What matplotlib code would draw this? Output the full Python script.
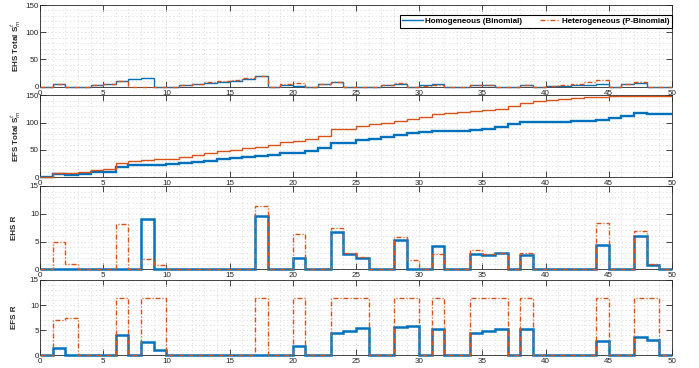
import matplotlib.pyplot as plt
from matplotlib.ticker import MultipleLocator
import numpy as np

plt.rcParams['font.family'] = ['Liberation Sans', 'DejaVu Sans']
plt.rcParams['lines.scale_dashes'] = False

# x edges (stairs from 0 to 50)
x = np.arange(0, 51)

# EHS Total S^t_m
ehs_tot_hom = [0, 5, 0, 0, 3, 5.5, 11, 14, 16.5, 0,
               0, 3.5, 5.5, 6.7, 9.2, 11, 14, 19, 0, 4,
               0.5, 0, 4.5, 9, 0, 0, 0, 3, 5.5, 0,
               2.5, 5.5, 0, 0, 2.5, 2.5, 0, 0, 3, 0,
               1, 1.5, 2.5, 3, 5.5, 0, 4.5, 7, 0, 0]
ehs_tot_het = [0, 5, 0, 0, 3, 5, 11, 0, 0, 0,
               0, 3.5, 5.5, 8, 10.4, 13, 16.5, 20, 0, 5,
               7, 0, 4.5, 9, 0, 0, 0, 3, 6, 0,
               2, 3.7, 0, 0, 2.5, 3.7, 0, 0, 3, 0,
               1.5, 2.5, 5, 8, 11.5, 0, 4.5, 8.6, 0, 0]

# EFS Total S^t_m
efs_tot_hom = [0, 6.5, 5, 6, 9.5, 10, 19, 22, 23, 23,
               24, 27, 28, 30.5, 33.5, 35, 37, 39.5, 40, 44.5,
               45, 49, 54, 63, 62, 67.5, 70.5, 74, 77, 81,
               83.5, 85, 85, 85, 86.5, 87.5, 92, 98, 101, 101,
               101.5, 102, 103, 103.5, 105, 108, 113, 117.5, 116, 116]
efs_tot_het = [0, 8, 8.5, 9.5, 13, 15, 26, 30, 31.5, 33,
               33.5, 38, 41, 44, 47.5, 50.5, 53, 55.5, 58.5, 64.5,
               67, 69.5, 76, 88, 88, 93.5, 97, 100, 103, 106.5,
               111, 115, 117.5, 119.5, 121, 123.5, 125.5, 131, 136.5, 140,
               142, 144, 145.5, 146.5, 147.5, 148, 148, 148.5, 148.5, 148.5]

# EHS R
ehs_r_hom = [0, 0, 0, 0, 0, 0, 0, 0, 9, 0,
             0, 0, 0, 0, 0, 0, 0, 9.6, 0, 0,
             2.1, 0, 0, 6.7, 2.7, 2.1, 0, 0, 5.2, 0,
             0, 4.2, 0, 0, 2.7, 2.6, 2.9, 0, 2.5, 0,
             0, 0, 0, 0, 4.4, 0, 0, 6.0, 0.8, 0]
ehs_r_het = [0, 5, 0.9, 0, 0, 0, 8.1, 0, 1.8, 0.7,
             0, 0, 0, 0, 0, 0, 0, 11.4, 0, 0,
             6.3, 0, 0, 7.5, 3.0, 2.3, 0, 0, 5.8, 1.7,
             0, 2.7, 0, 0, 3.4, 2.8, 3.0, 0, 3.0, 0,
             0, 0, 0, 0, 8.3, 0, 0, 6.9, 1.0, 0]

# EFS R
efs_r_hom = [0, 1.4, 0, 0, 0, 0, 4.0, 0, 2.6, 1.0,
             0, 0, 0, 0, 0, 0, 0, 0, 0, 0,
             1.8, 0, 0, 4.5, 4.9, 5.4, 0, 0, 5.6, 5.9,
             0, 5.3, 0, 0, 4.5, 4.9, 5.3, 0, 5.2, 0,
             0, 0, 0, 0, 2.8, 0, 0, 3.7, 3.0, 0]
efs_r_het = [0, 7.0, 7.5, 0, 0, 0, 11.5, 0, 11.5, 11.5,
             0, 0, 0, 0, 0, 0, 0, 11.5, 0, 0,
             11.5, 0, 0, 11.5, 11.5, 11.5, 0, 0, 11.5, 11.5,
             0, 11.5, 0, 0, 11.5, 11.5, 11.5, 0, 11.5, 0,
             0, 0, 0, 0, 11.5, 0, 0, 11.5, 11.5, 0]

blue = '#0072BD'
orange = '#D95319'
dark = '#262626'
dashdot = (0, (3.6, 1.4, 0.8, 1.4))

panels = [
    (ehs_tot_hom, ehs_tot_het, r'EHS Total S$^{t}_{m}$', 150, 50, 10, 1.0, True),
    (efs_tot_hom, efs_tot_het, r'EFS Total S$^{t}_{m}$', 150, 50, 10, 1.7, False),
    (ehs_r_hom, ehs_r_het, 'EHS R', 15, 5, 1, 1.8, True),
    (efs_r_hom, efs_r_het, 'EFS R', 15, 5, 1, 1.8, True),
]
# axes boxes in pixels (top, bottom)
boxes = [(5, 86.7), (95.3, 177.3), (186, 269.3), (280, 355.3)]

W, H = 699, 368
fig = plt.figure(figsize=(W / 100, H / 100), dpi=100)

for i, (hom, het, label, ymax, ymaj, ymin, lw_b, dashed) in enumerate(panels):
    top, bot = boxes[i]
    ax = fig.add_axes([40 / W, 1 - bot / H, 632 / W, (bot - top) / H])
    ax.stairs(hom, x, baseline=None, color=blue, lw=lw_b, zorder=3,
              label='Homogeneous (Binomial)', clip_on=False)
    ax.stairs(het, x, baseline=None, color=orange, lw=1.0, zorder=3,
              linestyle=dashdot if dashed else '-',
              label='Heterogeneous (P-Binomial)', clip_on=False)
    ax.set_xlim(0, 50)
    ax.set_ylim(0, ymax)
    ax.xaxis.set_major_locator(MultipleLocator(5))
    ax.xaxis.set_minor_locator(MultipleLocator(1))
    ax.yaxis.set_major_locator(MultipleLocator(ymaj))
    ax.yaxis.set_minor_locator(MultipleLocator(ymin))
    ax.grid(True, which='both', color='#d6d6d6', linestyle=':', lw=0.5, zorder=0)
    ax.set_axisbelow(True)
    ax.tick_params(which='major', direction='in', length=4.5, width=0.6,
                   top=True, right=True, colors=dark, labelsize=5.8)
    ax.tick_params(axis='x', which='major', pad=2.2)
    ax.tick_params(axis='y', which='major', pad=0.8)
    ax.tick_params(which='minor', length=0)
    for s in ax.spines.values():
        s.set_color(dark)
        s.set_linewidth(0.6)
    ax.set_ylabel(label, fontsize=5.8, fontweight='bold', color=dark)
    if i < 2:
        ax.yaxis.set_label_coords(-0.0275, 0.5)
    else:
        ax.yaxis.set_label_coords(-0.0345, 0.5)
    if i == 0:
        leg = ax.legend(loc='upper right', bbox_to_anchor=(1.0, 0.877), ncol=2,
                        borderaxespad=0, fancybox=False, edgecolor='black',
                        framealpha=1, handlelength=2.6, handletextpad=0.2,
                        columnspacing=2.2, borderpad=0.3,
                        prop={'size': 5.8, 'weight': 'bold'})
        leg.get_frame().set_linewidth(0.8)

fig.savefig('out.png', dpi=100)
